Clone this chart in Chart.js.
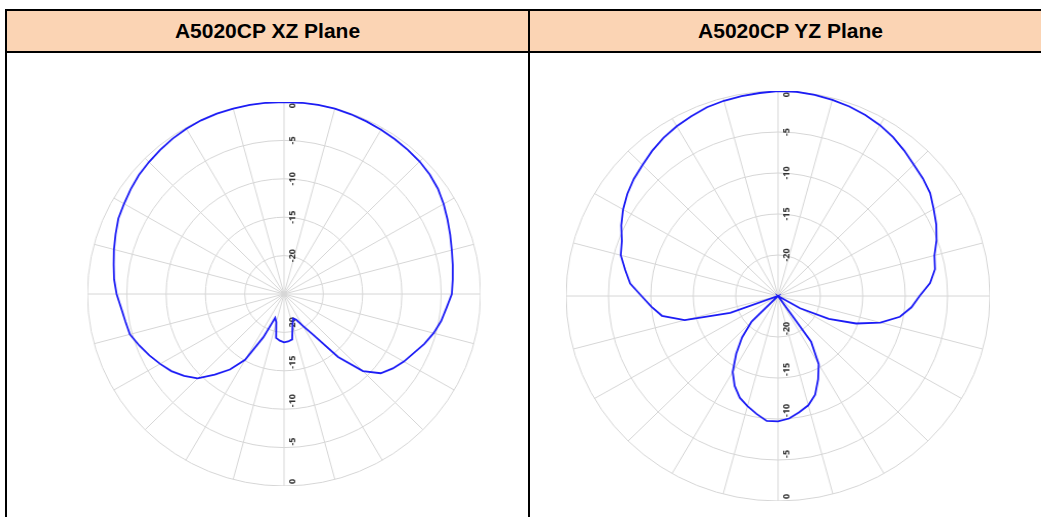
<!DOCTYPE html>
<html>
<head>
<meta charset="utf-8">
<script src="https://cdn.jsdelivr.net/npm/chart.js@4.4.1/dist/chart.umd.min.js"></script>
<style>
  html, body { margin: 0; padding: 0; background: #fff; }
  body { width: 1041px; height: 517px; position: relative; overflow: hidden; font-family: "Liberation Sans", Arial, sans-serif; }
  .frame { position: absolute; left: 5px; top: 9px; width: 1060px; height: 600px; border: 2px solid #000; box-sizing: border-box; }
  .head { position: absolute; left: 7px; top: 11px; width: 1060px; height: 40px; background: #FBD4B4; border-bottom: 2px solid #000; }
  .divider { position: absolute; left: 528px; top: 9px; width: 2px; height: 600px; background: #000; }
  .title { position: absolute; top: 11px; height: 40px; line-height: 40px; text-align: center; font-weight: bold; font-size: 21px; color: #000; }
  canvas { position: absolute; }
</style>
</head>
<body>
<div class="head"></div>
<div class="frame"></div>
<div class="divider"></div>
<div class="title" style="left:7px; width:521px;">A5020CP XZ Plane</div>
<div class="title" style="left:530px; width:521px;">A5020CP YZ Plane</div>

<canvas id="xzChart" width="384" height="384" style="left:92px; top:102px; transform: scaleX(1.0235);"></canvas>
<canvas id="yzChart" width="410" height="410" style="left:573px; top:91px; transform: scaleX(1.034);"></canvas>

<script>
// Angles (degrees, clockwise from top)
const ANGLES = [
  0, 5, 10, 15, 20, 25, 30, 35, 40, 45, 50, 55, 60, 65, 70, 75, 80, 85,
  90, 95, 100, 105, 110, 115, 120, 125, 130, 135, 140, 145, 150, 155, 160, 165, 170, 175,
  180, 185, 190, 195, 200, 205, 210, 215, 220, 225, 230, 235, 240, 245, 250, 255, 260, 265,
  270, 275, 280, 285, 290, 295, 300, 305, 310, 315, 320, 325, 330, 335, 340, 345, 350, 355
];

// Radial tick labels (dB)
const RADIAL_TICKS = [0, -5, -10, -15, -20];

// XZ plane gain (dB)
const XZ_GAIN = [
  0, 0, 0, 0, -0.1, -0.2, -0.3, -0.4, -0.5, -0.6, -0.8, -1.1, -1.55, -2.05, -2.5, -2.9, -3.2, -3.45,
  -3.65, -4.25, -4.7, -5.3, -6.0, -6.8, -7.4, -8.1, -8.95, -10.8, -14.3, -18.5, -20.2, -21.3, -21.6, -20.8, -19.0, -18.8,
  -18.7, -18.9, -19.2, -21.2, -21.7, -18.8, -15.1, -13.0, -11.3, -9.45, -8.4, -7.5, -6.8, -6.1, -5.4, -4.7, -4.5, -4.2,
  -3.7, -3.3, -3.0, -2.6, -2.2, -1.75, -1.5, -1.2, -0.9, -0.7, -0.5, -0.3, -0.15, -0.05, 0, 0, 0, 0
];

// YZ plane gain (dB)
const YZ_GAIN = [
  0, 0, -0.1, -0.25, -0.4, -0.65, -0.95, -1.35, -1.85, -2.35, -2.7, -3.1, -3.8, -4.4, -5.1, -5.9, -6.2, -7.0,
  -8.3, -9.2, -10.4, -12.5, -15.2, -18.4, -22.0, -25, -25, -25, -25, -18.2, -15.4, -13.8, -12.2, -11.2, -10.6, -10.0,
  -9.7, -9.7, -10.4, -11.1, -11.8, -12.9, -14.3, -16.4, -18.4, -20.6, -25, -25, -25, -25, -19.0, -13.6, -11.1, -10.0,
  -8.9, -7.5, -6.7, -5.8, -5.4, -4.6, -3.9, -3.3, -2.8, -2.4, -1.9, -1.45, -1.1, -0.8, -0.5, -0.35, -0.25, -0.15
];

const GRID_COLOR = '#d6d6d6';

// vertical dB labels drawn along the 0/180 axis, above and below the centre
const axisLabels = {
  id: 'axisLabels',
  beforeDatasetsDraw(chart) {
    const scale = chart.scales.r;
    const ctx = chart.ctx;
    ctx.save();
    ctx.font = 'bold 9px "Open Sans", "DejaVu Sans", sans-serif';
    ctx.fillStyle = '#333';
    ctx.textAlign = 'center';
    ctx.textBaseline = 'middle';
    RADIAL_TICKS.forEach(v => {
      const label = String(v);
      const r = scale.getDistanceFromCenterForValue(v);
      const tw = ctx.measureText(label).width;
      const x = scale.xCenter + 8;
      // upper half: centred on the ring, kept inside the outer circle
      let up = r;
      if (up > scale.drawingArea - tw / 2 - 1) up = scale.drawingArea - tw / 2 - 1;
      // lower half: text ends just above the ring
      const down = r - tw / 2 - 2;
      [scale.yCenter - up, scale.yCenter + down].forEach(y => {
        ctx.save();
        ctx.translate(x, y);
        ctx.rotate(-Math.PI / 2);
        ctx.fillText(label, 0, 0);
        ctx.restore();
      });
    });
    ctx.restore();
  }
};

function makePolar(id, values) {
  const ctx = document.getElementById(id).getContext('2d');
  return new Chart(ctx, {
    type: 'radar',
    data: {
      labels: ANGLES.map(a => a + '°'),
      datasets: [{
        data: values,
        borderColor: '#1c1cf5',
        borderWidth: 1.8,
        pointRadius: 0,
        fill: false,
        tension: 0
      }]
    },
    options: {
      responsive: false,
      animation: false,
      layout: { padding: 0 },
      plugins: {
        legend: { display: false },
        tooltip: { enabled: false }
      },
      scales: {
        r: {
          min: -25,
          max: 0,
          startAngle: 0,
          ticks: { display: false, stepSize: 5 },
          pointLabels: { display: false },
          grid: { circular: true, color: GRID_COLOR, lineWidth: 1 },
          angleLines: {
            color: c => (c.index % 3 === 0 ? GRID_COLOR : null),
            lineWidth: c => (c.index % 3 === 0 ? 1 : 0)
          }
        }
      }
    },
    plugins: [axisLabels]
  });
}

makePolar('xzChart', XZ_GAIN);
makePolar('yzChart', YZ_GAIN);
</script>
</body>
</html>
